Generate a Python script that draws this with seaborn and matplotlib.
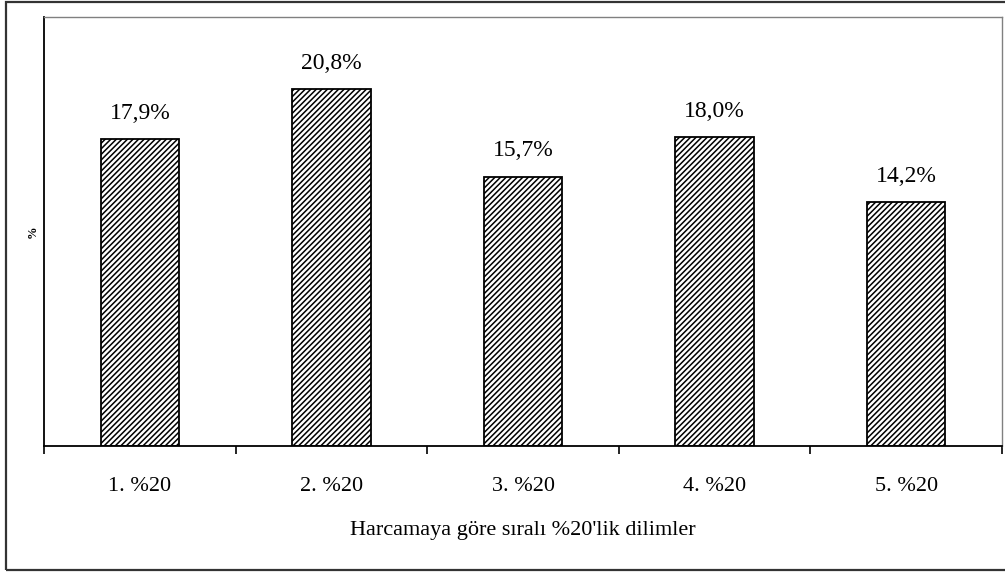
import matplotlib
matplotlib.use("Agg")
import matplotlib.pyplot as plt
import matplotlib.patches as patches
from matplotlib.ticker import FixedLocator
import seaborn as sns

# data
categories = ["1. %20", "2. %20", "3. %20", "4. %20", "5. %20"]
shares = [17.9, 20.8, 15.7, 18.0, 14.2]
value_labels = ["17,9%", "20,8%", "15,7%", "18,0%", "14,2%"]
x_title = "Harcamaya göre sıralı %20'lik dilimler"
y_title = "%"

sns.set_style("white")
plt.rcParams["font.family"] = ["Liberation Serif", "DejaVu Serif"]
plt.rcParams["hatch.linewidth"] = 1.1
plt.rcParams["hatch.color"] = "#1a1a1a"
plt.rcParams["text.color"] = "black"
plt.rcParams["axes.labelcolor"] = "black"
plt.rcParams["xtick.color"] = "black"

fig = plt.figure(figsize=(10.05, 5.75), dpi=100)
ax = fig.add_axes([0.0438, 0.2243, 0.9532, 0.7461])

sns.barplot(x=categories, y=shares, color="white", edgecolor="black",
            linewidth=1.3, hatch="//////", width=0.41, ax=ax)

ax.set_ylim(0, 25)
ax.set_xlim(-0.5, len(categories) - 0.5)
ax.set_yticks([])

# value labels above bars
for i, (v, lab) in enumerate(zip(shares, value_labels)):
    ax.annotate(lab, (i, v), xytext=(0, 11), textcoords="offset points",
                ha="center", va="bottom", fontsize=17)

# Excel-style ticks between categories
ax.tick_params(axis="x", which="major", length=0, pad=22, labelsize=16)
ax.xaxis.set_minor_locator(FixedLocator([i - 0.5 for i in range(len(categories) + 1)]))
ax.tick_params(axis="x", which="minor", bottom=True, length=6, width=1.2,
               direction="out", color="black")

ax.set_xlabel(x_title, fontsize=16, labelpad=18)
ax.set_ylabel(y_title, fontsize=9, fontweight="bold", labelpad=4)

for side in ["left", "bottom"]:
    ax.spines[side].set_color("black")
    ax.spines[side].set_linewidth(1.3)
for side in ["top", "right"]:
    ax.spines[side].set_color("#808080")
    ax.spines[side].set_linewidth(1.0)

# outer chart frame
fig.patches.append(patches.Rectangle((0.006, 0.0087), 1.1, 0.988, transform=fig.transFigure,
                                     fill=False, edgecolor="#333333", linewidth=1.6, clip_on=False))

fig.savefig("out.png", dpi=100)
